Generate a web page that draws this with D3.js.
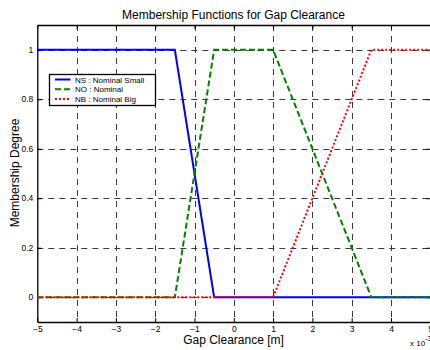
<!DOCTYPE html>
<html>
<head>
<meta charset="utf-8">
<script src="https://cdn.jsdelivr.net/npm/d3@7"></script>
<style>
  body { margin: 0; background: #fff; }
  text { font-family: "Liberation Sans", Arial, sans-serif; }
</style>
</head>
<body>
<svg id="chart" width="430" height="350"></svg>
<script>
// gap clearance in units of 1e-3 m
var xTicks = [-5, -4, -3, -2, -1, 0, 1, 2, 3, 4, 5];
var yTicks = [0, 0.2, 0.4, 0.6, 0.8, 1];
var yTickLabels = ["0", "0.2", "0.4", "0.6", "0.8", "1"];

var nsX = [-5, -1.5, -0.5, 5];
var nsY = [1, 1, 0, 0];
var noX = [-5, -1.5, -0.5, 1, 3.5, 5];
var noY = [0, 0, 1, 1, 0, 0];
var nbX = [-5, 1, 3.5, 5];
var nbY = [0, 0, 1, 1];

var legendLabels = ["NS : Nominal Small", "NO : Nominal", "NB : Nominal Big"];

var svg = d3.select("#chart");

var x = d3.scaleLinear().domain([-5, 5]).range([37.3, 430.3]);
var y = d3.scaleLinear().domain([-0.1, 1.1]).range([322, 25]);

// grid
var g_grid = svg.append("g");
g_grid.selectAll("line.vx").data(xTicks.slice(1, -1))
  .enter().append("line")
  .attr("x1", function(d) { return Math.round(x(d)) + 0.5; })
  .attr("x2", function(d) { return Math.round(x(d)) + 0.5; })
  .attr("y1", y(1.1)).attr("y2", y(-0.1))
  .attr("stroke", "#3a3a3a").attr("stroke-dasharray", "6,5");
g_grid.selectAll("line.hy").data(yTicks)
  .enter().append("line")
  .attr("y1", function(d) { return Math.round(y(d)) + 0.5; })
  .attr("y2", function(d) { return Math.round(y(d)) + 0.5; })
  .attr("x1", x(-5)).attr("x2", x(5))
  .attr("stroke", "#3a3a3a").attr("stroke-dasharray", "6,5");

// axes (matlab style: ticks inside, box)
var xAxisB = d3.axisBottom(x).tickValues(xTicks).tickSizeInner(-4).tickSizeOuter(0).tickPadding(3.5);
var xAxisT = d3.axisTop(x).tickValues(xTicks).tickSizeInner(-4).tickSizeOuter(0).tickFormat("");
var yAxisL = d3.axisLeft(y).tickValues(yTicks).tickSizeInner(-4).tickSizeOuter(0).tickPadding(4)
  .tickFormat(function(d, i) { return yTickLabels[i]; });
var yAxisR = d3.axisRight(y).tickValues(yTicks).tickSizeInner(-4).tickSizeOuter(0).tickFormat("");

function styleAxis(g) {
  g.select(".domain").attr("stroke", "#000").attr("stroke-width", 1.3);
  g.selectAll(".tick line").attr("stroke", "#000");
  g.selectAll(".tick text").attr("fill", "#000").style("font-size", "8.5px")
    .style("font-family", "'Liberation Sans', Arial, sans-serif");
}

svg.append("g").attr("transform", "translate(0," + y(-0.1) + ")").call(xAxisB).call(styleAxis);
svg.append("g").attr("transform", "translate(0," + y(1.1) + ")").call(xAxisT).call(styleAxis);
svg.append("g").attr("transform", "translate(" + x(-5) + ",0)").call(yAxisL).call(styleAxis);
svg.append("g").attr("transform", "translate(" + x(5) + ",0)").call(yAxisR).call(styleAxis);

// membership functions, drawn in matlab plot order NS, NO, NB
var line = d3.line().x(function(d) { return x(d[0]); }).y(function(d) { return y(d[1]); });
var series = [
  { xs: nsX, ys: nsY, col: "#0000ff", dash: null },
  { xs: noX, ys: noY, col: "#008000", dash: "6,3" },
  { xs: nbX, ys: nbY, col: "#ff0000", dash: "2,2" }
];
series.forEach(function(s) {
  var pts = s.xs.map(function(v, i) { return [v, s.ys[i]]; });
  svg.append("path").datum(pts)
    .attr("d", line)
    .attr("fill", "none")
    .attr("stroke", s.col)
    .attr("stroke-width", 2)
    .attr("stroke-dasharray", s.dash);
});

// legend
var lg = svg.append("g").attr("transform", "translate(49.5,74.5)");
lg.append("rect").attr("width", 106).attr("height", 31)
  .attr("fill", "#fff").attr("stroke", "#000").attr("stroke-width", 1.3);
series.forEach(function(s, i) {
  var yy = 5 + i * 9.8;
  lg.append("line").attr("x1", 5.5).attr("x2", 21).attr("y1", yy).attr("y2", yy)
    .attr("stroke", s.col).attr("stroke-width", 2).attr("stroke-dasharray", s.dash);
  lg.append("text").attr("x", 25.5).attr("y", yy + 3)
    .style("font-size", "8px").text(legendLabels[i]);
});

// titles
svg.append("text").attr("x", 233.5).attr("y", 19).attr("text-anchor", "middle")
  .style("font-size", "12px").text("Membership Functions for Gap Clearance");
svg.append("text").attr("x", 233.5).attr("y", 344).attr("text-anchor", "middle")
  .style("font-size", "12px").text("Gap Clearance [m]");
svg.append("text").attr("transform", "translate(18.5,173) rotate(-90)").attr("text-anchor", "middle")
  .style("font-size", "12px").text("Membership Degree");

// exponent
var ex = svg.append("text").attr("x", 410).attr("y", 346).style("font-size", "8px");
ex.append("tspan").text("x 10");
ex.append("tspan").attr("dy", -5).style("font-size", "7px").text("-3");
</script>
</body>
</html>
